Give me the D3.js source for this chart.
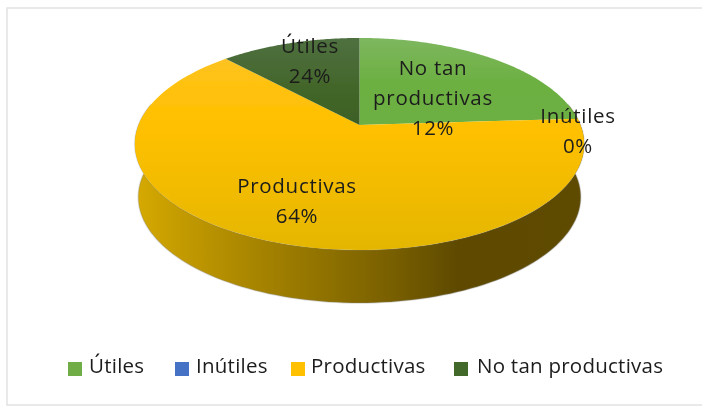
<!DOCTYPE html>
<html>
<head>
<meta charset="utf-8">
<script src="https://cdnjs.cloudflare.com/ajax/libs/d3/7.8.5/d3.min.js"></script>
<style>
    html, body { margin: 0; padding: 0; background: #fff; }
    text { font-family: "Open Sans", sans-serif; fill: #1c1c1c; }
</style>
</head>
<body>
<div id="chart"></div>
<script>
// slices, in drawing order (clockwise from 12 o'clock)
var categories = ["Útiles", "Inútiles", "Productivas", "No tan productivas"];
var sliceValues = [24, 0, 64, 12];
var sliceColors = ["url(#greenFace)", "#4472c4", "url(#yellowFace)", "url(#darkFace)"];
var legendColors = ["#70ad47", "#4472c4", "#ffc000", "#43682b"];

// the labels on the picture do not follow the slices, so they are kept apart
var labelLines = [["No tan", "productivas", "12%"], ["Inútiles", "0%"], ["Productivas", "64%"], ["Útiles", "24%"]];
var labelX = [433, 578, 297, 310];
var labelTop = [75, 123, 193, 53];

var width = 702, height = 406;

// pie top seen in perspective: apex is above the middle of the ellipse
var apex = {x: 359.5, y: 125};
var k = 0.179, spreadX = 221, spreadY = 102.6, depth = 53, bottomShrink = 0.985;

var x = d3.scaleLinear().domain([-1, 1]).range([apex.x - spreadX, apex.x + spreadX]);
var y = d3.scaleLinear().domain([-1, 1]).range([apex.y - spreadY, apex.y + spreadY]);

function project(angle) {
    var u = Math.sin(angle), v = -Math.cos(angle), d = 1 - k * v;
    return [x(u / d), y(v / d)];
}

function rimPoints(a0, a1) {
    return d3.range(0, 121).map(function(i) {
        return project(a0 + (a1 - a0) * i / 120);
    });
}

var svg = d3.select("#chart").append("svg")
    .attr("width", width)
    .attr("height", height);

var defs = svg.append("defs");

defs.append("filter").attr("id", "soft")
    .attr("x", "-5%").attr("y", "-5%").attr("width", "110%").attr("height", "110%")
    .append("feGaussianBlur").attr("stdDeviation", 0.6);

function gradient(id, vertical, stops) {
    var g = defs.append("linearGradient").attr("id", id)
        .attr("gradientUnits", "userSpaceOnUse");
    if (vertical) g.attr("x1", 0).attr("x2", 0).attr("y1", 38).attr("y2", 250);
    else g.attr("x1", 135).attr("x2", 584).attr("y1", 0).attr("y2", 0);
    stops.forEach(function(s) {
        g.append("stop").attr("offset", s[0]).attr("stop-color", s[1]);
    });
}
gradient("greenFace", true, [[0, "#7eb75f"], [0.2, "#6db043"], [1, "#6aac40"]]);
gradient("yellowFace", true, [[0, "#fdc433"], [0.25, "#ffc10a"], [0.45, "#fec000"], [1, "#e4b600"]]);
gradient("darkFace", true, [[0, "#4f7040"], [0.25, "#426529"], [0.45, "#3c5f24"]]);
gradient("wall", false, [[0, "#d6aa00"], [0.12, "#c09800"], [0.35, "#9a7a00"], [0.55, "#7c6200"], [0.72, "#5e4a00"], [1, "#5f4b00"]]);

// the page frame runs off the right side of the window
svg.append("path")
    .attr("d", "M" + (width + 4) + ",8H7V405H" + (width + 4))
    .attr("fill", "none")
    .attr("stroke", "#e2e2e2")
    .attr("stroke-width", 1.5);

var chart = svg.append("g").attr("filter", "url(#soft)");

var pie = d3.pie().sort(null).value(function(d) { return d; });
var arcs = pie(sliceValues);

var line = d3.line();

// wall: front half of the rim, pulled down by the depth
var front = rimPoints(Math.PI / 2 - 0.2, Math.PI * 1.5 + 0.2);
var wall = front.concat(front.slice().reverse().map(function(p) {
    return [apex.x + (p[0] - apex.x) * bottomShrink, p[1] + depth];
}));

chart.append("path")
    .attr("d", line(wall) + "Z")
    .attr("fill", "url(#wall)")
    .attr("stroke", "#8a8a8a")
    .attr("stroke-opacity", 0.3)
    .attr("stroke-width", 1.5);

// top face
chart.append("g").selectAll("path")
    .data(arcs)
    .enter()
    .append("path")
    .attr("d", function(d) {
        return line([[apex.x, apex.y]].concat(rimPoints(d.startAngle, d.endAngle))) + "Z";
    })
    .attr("fill", function(d, i) { return sliceColors[i]; });

// data labels
var labels = chart.append("g").selectAll("text")
    .data(labelLines)
    .enter()
    .append("text")
    .attr("text-anchor", "middle")
    .attr("font-size", 20.5)
    .attr("letter-spacing", 0.7);

labels.selectAll("tspan")
    .data(function(d, i) {
        return d.map(function(t, j) { return {t: t, i: i, j: j}; });
    })
    .enter()
    .append("tspan")
    .attr("x", function(d) { return labelX[d.i]; })
    .attr("y", function(d) { return labelTop[d.i] + d.j * 30; })
    .text(function(d) { return d.t; });

// legend
var legendSwatch = [68, 175, 291, 454];
var legendText = [89, 196, 311, 477];

var legend = chart.append("g").selectAll("g")
    .data(categories)
    .enter()
    .append("g");

legend.append("rect")
    .attr("x", function(d, i) { return legendSwatch[i]; })
    .attr("y", 362)
    .attr("width", 14).attr("height", 14)
    .attr("fill", function(d, i) { return legendColors[i]; });

legend.append("text")
    .attr("x", function(d, i) { return legendText[i]; })
    .attr("y", 373)
    .attr("font-size", 20.5)
    .attr("letter-spacing", 0.25)
    .text(function(d) { return d; });
</script>
</body>
</html>
